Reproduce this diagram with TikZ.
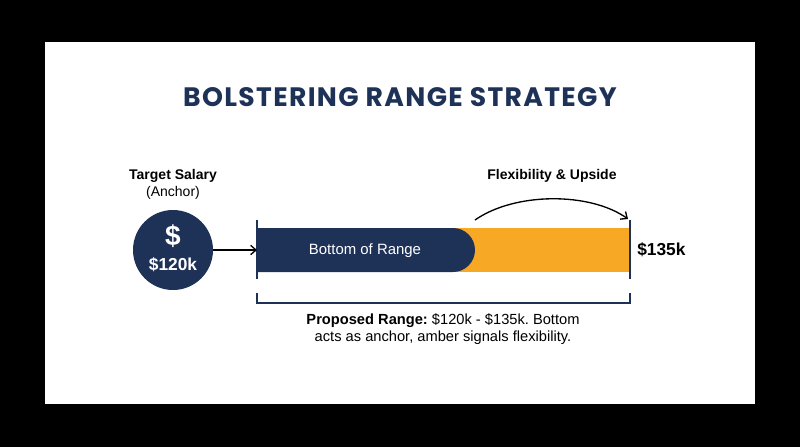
\documentclass[tikz,border=0pt]{standalone}
\usepackage{fontspec}
\setmainfont{Liberation Sans}
\newfontfamily\titlefont{Poppins}[LetterSpace=5]
\usetikzlibrary{arrows.meta}
\frenchspacing

\definecolor{navy}{RGB}{30,50,88}
\definecolor{amber}{RGB}{247,168,36}

\tikzset{
  lbl/.style={inner sep=0.75pt, font=\fontsize{10.5}{12.75}\selectfont},
  tick/.style={draw=navy, line width=1.5pt},
  brace/.style={draw=navy, line width=1.1pt},
  pointer/.style={line width=1pt, -{Straight Barb[length=4pt,width=7pt]}},
}

\begin{document}
\begin{tikzpicture}[x=0.75pt,y=0.75pt,yscale=-1,xscale=1]
        % frame
        \fill [black] (0,0) rectangle (800,447);
        \fill [white] (45,42) rectangle (755,404);
        \useasboundingbox (0,0) rectangle (800,447);

        % Title
        \node [inner sep=0pt, text=navy, font=\titlefont\bfseries\fontsize{20}{22}\selectfont] (title) at (400,97) {BOLSTERING RANGE STRATEGY};

        % Anchor circle
        \node [circle, fill=navy, minimum size=60pt, inner sep=0pt] (anchor) at (173,250) {};
        \node [lbl, text=white, font=\bfseries\fontsize{21}{24}\selectfont] (dollar) at (173,236) {\$};
        \node [lbl, text=white, font=\bfseries\fontsize{13}{15}\selectfont] (low) at (173,265) {\$120k};
        \node [lbl, font=\bfseries\fontsize{10.5}{12.75}\selectfont] (target) at (173,176) {Target Salary};
        \node [lbl] (anchortxt) at (173,193) {(Anchor)};

        % Range bar
        \fill [amber] (455,228) rectangle (630,272);
        \fill [navy] (257,228) -- (453,228) arc [start angle=-90, end angle=90, radius=22] -- (257,272) -- cycle;
        \node [lbl, text=white, font=\fontsize{11.2}{13}\selectfont] (bottom) at (365,251) {Bottom of Range};

        % ticks at both ends
        \coordinate (lowtop) at (257,220);
        \coordinate (lowmid) at (257,250);
        \coordinate (hightop) at (630,220);
        \draw [tick] (lowtop) -- (257,279);
        \draw [tick] (hightop) -- (630,279);
        \node [lbl, anchor=west, font=\bfseries\fontsize{13}{15}\selectfont] (high) at (636,250) {\$135k};

        % arrows
        \draw [pointer] (anchor) -- (lowmid);
        \coordinate (flexstart) at (475,220);
        \draw [pointer] (flexstart) .. controls (515,192) and (590,192) .. (628,219);
        \node [lbl, font=\bfseries\fontsize{10.5}{12.75}\selectfont] (flex) at (552,176) {Flexibility \& Upside};

        % bracket
        \draw [brace] (257,293) -- (257,303) -- (630,303) -- (630,293);

        % caption
        \node [lbl, align=center, font=\fontsize{11}{13}\selectfont] (caption) at (443,329) {\textbf{Proposed Range:} \$120k - \$135k. Bottom\\acts as anchor, amber signals flexibility.};
\end{tikzpicture}
\end{document}
